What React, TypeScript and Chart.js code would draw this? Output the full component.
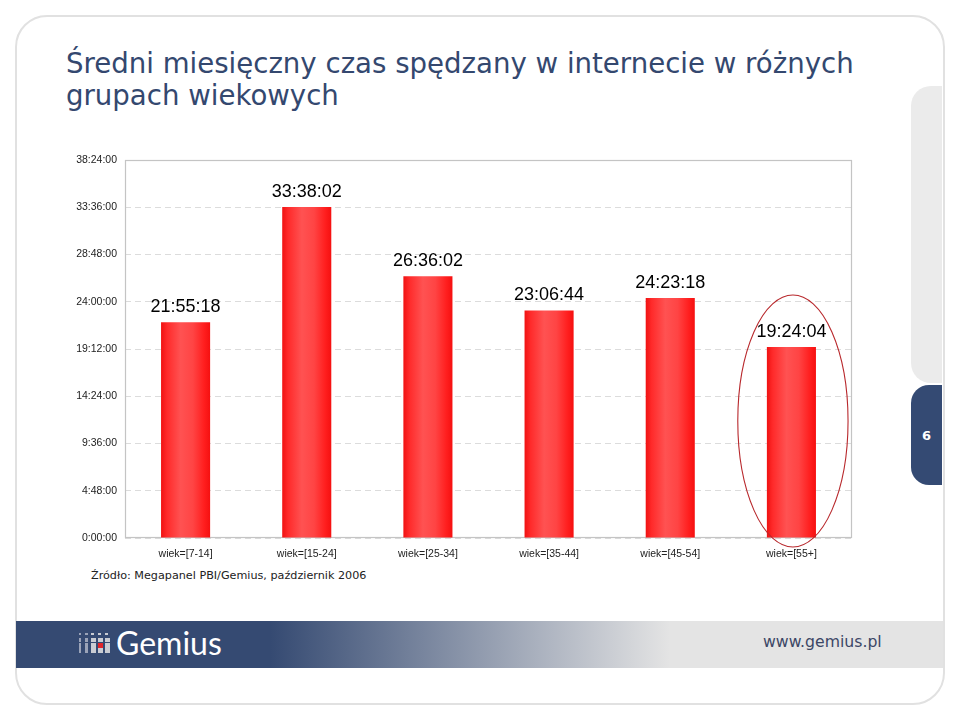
import React, { useEffect, useRef } from "react";
import { Chart, registerables } from "chart.js";

Chart.register(...registerables);

// ---- data ----
const categories: string[] = [
  "wiek=[7-14]",
  "wiek=[15-24]",
  "wiek=[25-34]",
  "wiek=[35-44]",
  "wiek=[45-54]",
  "wiek=[55+]",
];
// average monthly time in seconds (21:55:18, 33:38:02, 26:36:02, 23:06:44, 24:23:18, 19:24:04)
const seconds: number[] = [78918, 121082, 95762, 83204, 87798, 69844];
const yMax = 138240; // 38:24:00
const yStep = 17280; // 4:48:00
const highlightIndex = 5;

const titleLines: string[] = [
  "Średni miesięczny czas spędzany w internecie w różnych",
  "grupach wiekowych",
];
const sourceText = "Źródło: Megapanel PBI/Gemius, październik 2006";

const pad2 = (n: number) => (n < 10 ? "0" + n : "" + n);
const fmt = (v: number) => {
  const h = Math.floor(v / 3600);
  const m = Math.floor((v % 3600) / 60);
  const s = Math.round(v % 60);
  return `${h}:${pad2(m)}:${pad2(s)}`;
};

const BAR_PCT = 0.405;

const framePlugin = {
  id: "frame",
  beforeDatasetsDraw(chart: any) {
    const { ctx, chartArea: a } = chart;
    ctx.save();
    ctx.strokeStyle = "#c4c4c4";
    ctx.lineWidth = 1.2;
    ctx.strokeRect(a.left + 0.5, a.top + 0.5, a.right - a.left - 1, a.bottom - a.top - 1);
    ctx.restore();
  },
};

const labelPlugin = {
  id: "valueLabels",
  afterDatasetsDraw(chart: any) {
    const { ctx } = chart;
    const meta = chart.getDatasetMeta(0);
    ctx.save();
    ctx.font = '18px "Liberation Sans", Arial, sans-serif';
    ctx.fillStyle = "#000";
    ctx.textAlign = "center";
    ctx.textBaseline = "alphabetic";
    meta.data.forEach((el: any, i: number) => {
      ctx.fillText(fmt(seconds[i]), el.x, el.y - 10);
    });
    // highlight ellipse
    const xs = chart.scales.x;
    const el = meta.data[highlightIndex];
    if (el) {
      const cw = xs.width / categories.length;
      const top = el.y - 52;
      const bottom = chart.chartArea.bottom + 9;
      const cx = el.x + 1.5;
      const cy = (top + bottom) / 2;
      ctx.beginPath();
      ctx.ellipse(cx, cy, cw * 0.455, (bottom - top) / 2, 0, 0, Math.PI * 2);
      ctx.strokeStyle = "#b8282c";
      ctx.lineWidth = 1.1;
      ctx.stroke();
    }
    ctx.restore();
  },
};

function ChartBox() {
  const ref = useRef<HTMLCanvasElement | null>(null);
  useEffect(() => {
    if (!ref.current) return;
    const chart = new Chart(ref.current, {
      type: "bar",
      data: {
        labels: categories,
        datasets: [
          {
            data: seconds,
            categoryPercentage: 1,
            barPercentage: BAR_PCT,
            borderWidth: 0,
            backgroundColor: (c: any) => {
              const ch = c.chart;
              const xs = ch.scales && ch.scales.x;
              if (!xs || c.dataIndex === undefined || !ch.chartArea) return "#ff3030";
              const cx = xs.getPixelForValue(c.dataIndex);
              const half = ((xs.width / categories.length) * BAR_PCT) / 2;
              const g = ch.ctx.createLinearGradient(cx - half, 0, cx + half, 0);
              g.addColorStop(0, "#f01212");
              g.addColorStop(0.12, "#ff2a2a");
              g.addColorStop(0.4, "#ff5252");
              g.addColorStop(0.65, "#ff4444");
              g.addColorStop(0.88, "#ff1e1e");
              g.addColorStop(1, "#f51010");
              return g;
            },
          },
        ],
      },
      options: {
        responsive: false,
        animation: false,
        layout: { padding: { top: 160, right: 108, left: 0, bottom: 0 } },
        plugins: {
          legend: { display: false },
          tooltip: { enabled: false },
        },
        scales: {
          x: {
            grid: { display: false, drawTicks: false },
            border: { display: false },
            ticks: {
              font: { family: '"Liberation Sans", Arial, sans-serif', size: 10.5 },
              color: "#222",
              padding: 10,
              maxRotation: 0,
              autoSkip: false,
            },
            afterFit: (s: any) => {
              s.height = 181;
            },
          },
          y: {
            min: 0,
            max: yMax,
            ticks: {
              stepSize: yStep,
              callback: (v: any) => fmt(Number(v)),
              font: { family: '"Liberation Sans", Arial, sans-serif', size: 10.5 },
              color: "#222",
              padding: 8,
            },
            grid: { color: "#dcdcdc", drawTicks: false, lineWidth: 1 },
            border: { display: false, dash: [6, 4] },
            afterFit: (s: any) => {
              s.width = 125;
            },
          },
        },
      },
      plugins: [framePlugin, labelPlugin],
    });
    return () => chart.destroy();
  }, []);
  return (
    <canvas
      ref={ref}
      width={960}
      height={719}
      style={{ position: "absolute", left: 0, top: 0, width: 960, height: 719 }}
    />
  );
}

const logoCols = [79, 85, 91, 98, 105];
const logoColW = [2, 3, 5, 5, 5];
const logoRows = [633, 638, 643, 648];
const logoRowH = [2, 4, 5, 5];

function Logo() {
  const cells: any[] = [];
  logoRows.forEach((y, r) => {
    logoCols.forEach((x, c) => {
      const red = r === 2 && c === 3;
      const w = logoColW[c];
      cells.push(
        <div
          key={r + "-" + c}
          style={{
            position: "absolute",
            left: x,
            top: y,
            width: r === 0 ? Math.min(w, 3) : w,
            height: r === 0 ? 2 : logoRowH[r],
            background: red ? "#e0242a" : c < 2 ? "#9aa3b8" : "#c9ccd3",
          }}
        />
      );
    });
  });
  return <>{cells}</>;
}

export default function App() {
  return (
    <div
      style={{
        position: "absolute",
        left: 0,
        top: 0,
        width: 960,
        height: 719,
        background: "#fff",
        overflow: "hidden",
      }}
    >
      {/* card */}
      <div
        style={{
          position: "absolute",
          left: 15,
          top: 15,
          width: 926,
          height: 686,
          border: "2px solid #e1e1e1",
          borderRadius: 32,
          background: "#fff",
        }}
      />
      {/* right tabs */}
      <div
        style={{
          position: "absolute",
          left: 911,
          top: 86,
          width: 31,
          height: 297,
          background: "#ebebeb",
          borderRadius: "20px 0 0 20px",
        }}
      />
      <div
        style={{
          position: "absolute",
          left: 911,
          top: 385,
          width: 31,
          height: 100,
          background: "#344a73",
          borderRadius: "18px 0 0 18px",
          color: "#fff",
          fontFamily: '"DejaVu Sans", sans-serif',
          fontWeight: "bold",
          fontSize: 13,
          display: "flex",
          alignItems: "center",
          justifyContent: "center",
        }}
      >
        6
      </div>
      {/* footer band */}
      <div
        style={{
          position: "absolute",
          left: 16,
          top: 621,
          width: 927,
          height: 47,
          background:
            "linear-gradient(to right, #354a72 0px, #354a72 254px, #e4e4e4 654px, #e4e4e4 100%)",
        }}
      />
      <Logo />
      <div
        style={{
          position: "absolute",
          left: 116,
          top: 623,
          fontFamily: "Lato, sans-serif",
          fontSize: 32,
          lineHeight: "40px",
          color: "#fff",
          whiteSpace: "nowrap",
        }}
      >
        Gemius
      </div>
      <div
        style={{
          position: "absolute",
          left: 763,
          top: 633,
          fontFamily: '"DejaVu Sans", sans-serif',
          fontSize: 15.7,
          lineHeight: "18px",
          color: "#3c4766",
          whiteSpace: "nowrap",
        }}
      >
        www.gemius.pl
      </div>
      {/* title */}
      <div
        style={{
          position: "absolute",
          left: 66,
          top: 48,
          fontFamily: '"DejaVu Sans", sans-serif',
          fontSize: 27.6,
          lineHeight: "32px",
          color: "#34486f",
          whiteSpace: "nowrap",
        }}
      >
        {titleLines.map((t, i) => (
          <div key={i}>{t}</div>
        ))}
      </div>
      {/* source */}
      <div
        style={{
          position: "absolute",
          left: 91,
          top: 569,
          fontFamily: '"DejaVu Sans", sans-serif',
          fontSize: 11.2,
          lineHeight: "13px",
          color: "#222",
          whiteSpace: "nowrap",
        }}
      >
        {sourceText}
      </div>
      <ChartBox />
    </div>
  );
}
